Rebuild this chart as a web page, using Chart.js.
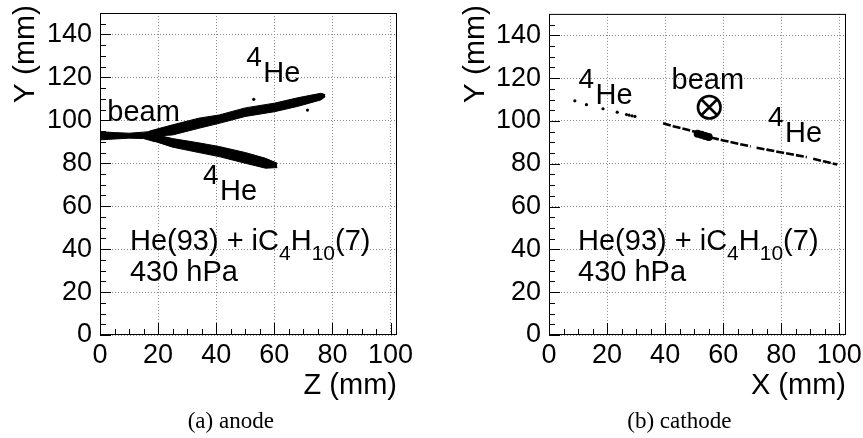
<!DOCTYPE html>
<html>
<head>
<meta charset="utf-8">
<script src="https://cdn.jsdelivr.net/npm/chart.js@4.4.1/dist/chart.umd.min.js"></script>
<style>
body { margin: 0; background: #fff; }
#wrap { position: relative; width: 863px; height: 438px; }
.pan { position: absolute; top: 0; height: 438px; }
</style>
</head>
<body>
<div id="wrap">
  <div class="pan" style="left:0;width:430px"><canvas id="chartAnodo"></canvas></div>
  <div class="pan" style="left:430px;width:433px"><canvas id="chartCatodo"></canvas></div>
</div>
<script>
// ================================
// DATOS
// ================================
const xTicks = [0, 20, 40, 60, 80, 100];
const yTicks = [0, 20, 40, 60, 80, 100, 120, 140];

// (a) anodo: bordes de las trazas (Z, Y en mm)
const beamZ   = [0, 5, 10, 15, 19];
const beamTop = [94.7, 94.3, 94.0, 94.5, 95.0];
const beamBot = [90.9, 91.3, 91.7, 91.5, 90.0];

const upperZ   = [17, 25, 34, 41, 50, 60, 68, 76, 77.5];
const upperTop = [95.0, 97.9, 101.0, 102.5, 105.8, 108.0, 110.5, 112.6, 112.0];
const upperBot = [92.5, 93.2, 96.3, 98.6, 101.8, 104.0, 106.5, 109.5, 111.0];

const lowerZ   = [17, 25, 34, 41, 50, 57, 61];
const lowerTop = [94.0, 91.5, 89.5, 87.8, 85.0, 82.3, 80.0];
const lowerBot = [91.0, 87.5, 85.0, 83.1, 80.0, 77.7, 78.0];

const anodeStrayZ = [52.9, 71.4];
const anodeStrayY = [109.8, 104.8];

// (b) catodo (X, Y en mm)
const cathDotX = [8.9, 12.9, 18.6, 23.5, 26.7, 27.6, 28.6, 29.6];
const cathDotY = [109.4, 107.6, 105.7, 104.1, 103.0, 102.7, 102.4, 102.1];

const trackX = [39.3, 42.8, 47.4, 49.7, 53.0, 56.5, 60.0, 64.0, 68.1, 69.5, 70.0, 71.5, 75.0, 79.6, 80.7, 84.0, 88.8, 89.5, 91.0, 95.0, 99.3];
const trackY = [98.9, 97.5, 96.0, 95.2, 93.6, 92.0, 90.9, 89.7, 88.5, 88.1, null, 87.5, 86.6, 85.4, 85.1, 84.3, 83.1, null, 82.3, 81.0, 79.6];

const blobX = [51.2, 52.5, 53.8, 55.0];
const blobY = [94.0, 93.5, 93.0, 92.5];

const beamMarkX = [55.2];
const beamMarkY = [106.4];

const FUENTE = '"Liberation Sans", Arial, Helvetica, sans-serif';

function puntos(xs, ys) {
    return xs.map((x, i) => ({ x: x, y: ys[i] }));
}

// ================================
// MARCO, TICKS INTERNOS Y TEXTOS
// ================================
function marcoRoot(cfg) {
    return {
        id: 'marcoRoot',
        afterDraw(chart) {
            const { ctx, chartArea: a, scales: { x, y } } = chart;
            ctx.save();
            ctx.strokeStyle = '#000';
            ctx.lineWidth = 1;
            ctx.strokeRect(a.left + 0.5, a.top + 0.5, a.right - a.left - 1, a.bottom - a.top - 1);

            ctx.beginPath();
            for (let v = 0; v <= 100; v += 5) {
                const px = Math.round(x.getPixelForValue(v)) + 0.5;
                const len = v % 20 === 0 ? 12 : 6;
                ctx.moveTo(px, a.bottom);
                ctx.lineTo(px, a.bottom - len);
            }
            for (let v = 0; v <= 145; v += 5) {
                const py = Math.round(y.getPixelForValue(v)) + 0.5;
                const len = v % 20 === 0 ? 11 : 6;
                ctx.moveTo(a.left, py);
                ctx.lineTo(a.left + len, py);
            }
            ctx.stroke();

            ctx.fillStyle = '#000';
            ctx.textBaseline = 'alphabetic';
            ctx.textAlign = 'left';

            // isotopos 4He
            cfg.isotopos.forEach(p => {
                const px = x.getPixelForValue(p[0]);
                const py = y.getPixelForValue(p[1]);
                ctx.font = '28px ' + FUENTE;
                ctx.fillText('4', px - 17, py - 16);
                ctx.font = '29px ' + FUENTE;
                ctx.fillText('He', px, py);
            });

            // "beam"
            ctx.font = '29px ' + FUENTE;
            ctx.fillText('beam', x.getPixelForValue(cfg.beam[0]), y.getPixelForValue(cfg.beam[1]));

            // mezcla de gas
            let fx = x.getPixelForValue(cfg.gas[0]);
            const fy = y.getPixelForValue(cfg.gas[1]);
            const trozos = [['He(93) + iC', 0, 29], ['4', 10, 21], ['H', 0, 29], ['10', 10, 21], ['(7)', 0, 29]];
            trozos.forEach(t => {
                ctx.font = t[2] + 'px ' + FUENTE;
                ctx.fillText(t[0], fx, fy + t[1]);
                fx += ctx.measureText(t[0]).width;
            });
            ctx.font = '29px ' + FUENTE;
            ctx.fillText('430 hPa', x.getPixelForValue(cfg.gas[0]), y.getPixelForValue(cfg.presion));

            // titulos de ejes
            ctx.textAlign = 'right';
            ctx.fillText(cfg.xTitulo, a.right, 394);
            ctx.save();
            ctx.translate(cfg.yTituloX, 5);
            ctx.rotate(-Math.PI / 2);
            ctx.font = '30px ' + FUENTE;
            ctx.fillText('Y (mm)', 0, 0);
            ctx.restore();

            // pie
            ctx.textAlign = 'center';
            ctx.font = '23px "Liberation Serif", "Times New Roman", serif';
            ctx.fillText(cfg.pie, cfg.pieX, 428);
            ctx.restore();
        }
    };
}

function escalas(anchoY, maxX) {
    const fuenteTicks = { family: FUENTE, size: 27 };
    return {
        x: {
            type: 'linear',
            min: 0,
            max: maxX,
            afterBuildTicks: s => { s.ticks = xTicks.map(v => ({ value: v })); },
            afterFit: s => { s.height = 103; s.paddingLeft = 0; s.paddingRight = 0; },
            ticks: { font: fuenteTicks, color: '#000', padding: 4, autoSkip: false, maxRotation: 0, includeBounds: false },
            grid: { color: '#8a8a8a', lineWidth: 1, drawTicks: false },
            border: { display: false, dash: [1, 2] }
        },
        y: {
            type: 'linear',
            min: 0,
            max: 150,
            afterBuildTicks: s => { s.ticks = yTicks.map(v => ({ value: v })); },
            afterFit: s => { s.width = anchoY; s.paddingTop = 0; s.paddingBottom = 0; },
            ticks: { font: fuenteTicks, color: '#000', padding: 8, autoSkip: false, includeBounds: false },
            grid: { color: '#8a8a8a', lineWidth: 1, drawTicks: false },
            border: { display: false, dash: [1, 2] }
        }
    };
}

function opcionesBase(anchoY, maxX, padRight) {
    return {
        responsive: true,
        maintainAspectRatio: false,
        animation: false,
        devicePixelRatio: 1,
        layout: { padding: { top: 13, right: padRight, left: 0, bottom: 0 } },
        scales: escalas(anchoY, maxX),
        plugins: { legend: { display: false }, tooltip: { enabled: false } },
        elements: { point: { radius: 0 } }
    };
}

function banda(xs, ys, relleno) {
    return {
        data: puntos(xs, ys),
        showLine: true,
        borderColor: '#000',
        borderWidth: 1,
        backgroundColor: '#000',
        pointRadius: 0,
        fill: relleno
    };
}

function dispersos(xs, ys, r) {
    return {
        data: puntos(xs, ys),
        showLine: false,
        pointRadius: r,
        pointBackgroundColor: '#000',
        pointBorderWidth: 0
    };
}

// ================================
// 1. ANODO
// ================================
new Chart(document.getElementById('chartAnodo'), {
    type: 'line',
    data: {
        datasets: [
            banda(beamZ, beamTop, '+1'), banda(beamZ, beamBot, false),
            banda(upperZ, upperTop, '+1'), banda(upperZ, upperBot, false),
            banda(lowerZ, lowerTop, '+1'), banda(lowerZ, lowerBot, false),
            dispersos(anodeStrayZ, anodeStrayY, 1.6)
        ]
    },
    options: opcionesBase(100, 102.2, 33),
    plugins: [marcoRoot({
        isotopos: [[56.2, 118.0], [41.3, 62.9]],
        beam: [2.5, 99.9],
        gas: [10.3, 39.6],
        presion: 25.2,
        xTitulo: 'Z (mm)',
        yTituloX: 34,
        pie: '(a) anode',
        pieX: 230.8
    })]
});

// ================================
// 2. CATODO
// ================================
new Chart(document.getElementById('chartCatodo'), {
    type: 'line',
    data: {
        datasets: [
            dispersos(cathDotX, cathDotY, 1.6),
            {
                data: puntos(trackX, trackY),
                showLine: true,
                spanGaps: false,
                borderColor: '#000',
                borderWidth: 2.6,
                borderDash: [8, 2],
                pointRadius: 0,
                fill: false
            },
            dispersos(blobX, blobY, 4),
            {
                data: puntos(beamMarkX, beamMarkY),
                showLine: false,
                pointStyle: 'circle',
                pointRadius: 11.3,
                pointBorderWidth: 2.6,
                pointBorderColor: '#000',
                pointBackgroundColor: 'rgba(0,0,0,0)'
            },
            {
                data: puntos(beamMarkX, beamMarkY),
                showLine: false,
                pointStyle: 'crossRot',
                pointRadius: 11.3,
                pointBorderWidth: 2.6,
                pointBorderColor: '#000'
            }
        ]
    },
    options: opcionesBase(119, 102.3, 17),
    plugins: [marcoRoot({
        isotopos: [[16.0, 108.0], [81.3, 90.1]],
        beam: [42.2, 115.0],
        gas: [10.0, 39.6],
        presion: 25.2,
        xTitulo: 'X (mm)',
        yTituloX: 54,
        pie: '(b) cathode',
        pieX: 249.3
    })]
});
</script>
</body>
</html>
